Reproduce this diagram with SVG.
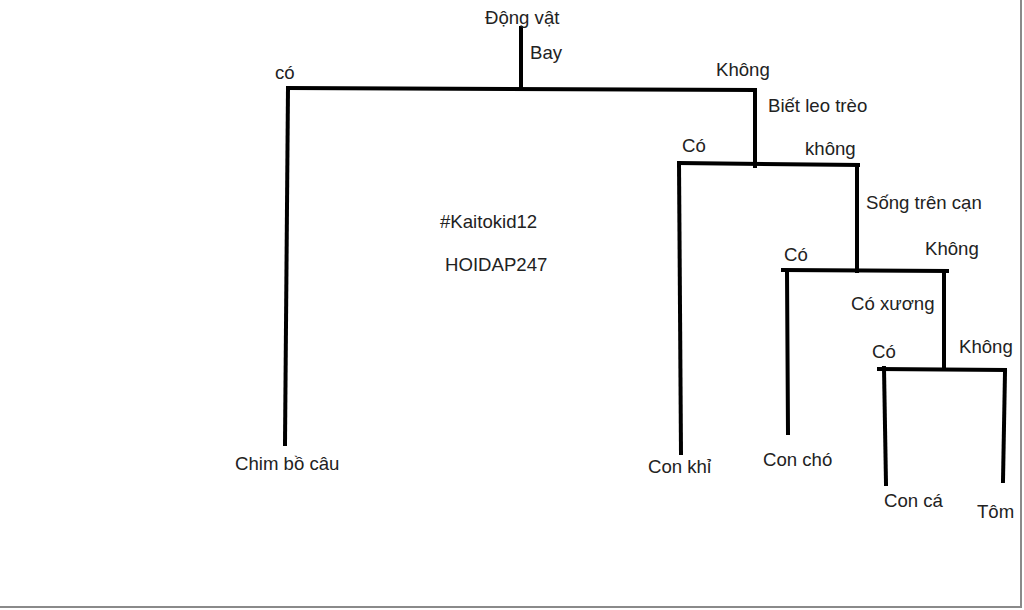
<svg xmlns="http://www.w3.org/2000/svg" width="1024" height="610" viewBox="0 0 1024 610">
<style>
text{font-family:"Liberation Sans",Arial,sans-serif;font-size:18.6px;fill:#222}
.e{stroke:#000;stroke-width:4;fill:none;stroke-linecap:square}
</style>
<rect width="1024" height="610" fill="#fff"/>
<path d="M0 607H1021V0" fill="none" stroke="#8a8a8a" stroke-width="2"/>
<g id="connectors">
<path class="e" d="M521 28V88"/>
<path class="e" d="M288 88L755 90"/>
<path class="e" d="M288 88L285 444"/>
<path class="e" d="M755 90V166"/>
<path class="e" d="M679 163L858 165"/>
<path class="e" d="M679 163L681 453"/>
<path class="e" d="M857 165V271"/>
<path class="e" d="M783 270L947 271"/>
<path class="e" d="M787 271L788 433"/>
<path class="e" d="M944 271V369"/>
<path class="e" d="M879 369L1005 370"/>
<path class="e" d="M884 368L886 484"/>
<path class="e" d="M1005 372L1003 481"/>
</g>
<g id="root"><text x="485" y="24">Động vật</text></g>
<g id="bay"><text x="530" y="59">Bay</text></g>
<g id="l-co1"><text x="275" y="79">có</text></g>
<g id="l-khong1"><text x="716" y="76">Không</text></g>
<g id="q-leo"><text x="768" y="112">Biết leo trèo</text></g>
<g id="l-co2"><text x="682" y="152">Có</text></g>
<g id="l-khong2"><text x="805" y="155">không</text></g>
<g id="q-can"><text x="866" y="209">Sống trên cạn</text></g>
<g id="l-co3"><text x="784" y="261">Có</text></g>
<g id="l-khong3"><text x="925" y="255">Không</text></g>
<g id="q-xuong"><text x="851" y="310">Có xương</text></g>
<g id="l-co4"><text x="872" y="358">Có</text></g>
<g id="l-khong4"><text x="959" y="353">Không</text></g>
<g id="chim"><text x="235" y="470">Chim bồ câu</text></g>
<g id="khi"><text x="648" y="473">Con khỉ</text></g>
<g id="cho"><text x="763" y="466">Con chó</text></g>
<g id="ca"><text x="884" y="507">Con cá</text></g>
<g id="tom"><text x="977" y="518">Tôm</text></g>
<g id="watermark"><text x="440" y="228">#Kaitokid12</text><text x="445" y="271">HOIDAP247</text></g>
</svg>
